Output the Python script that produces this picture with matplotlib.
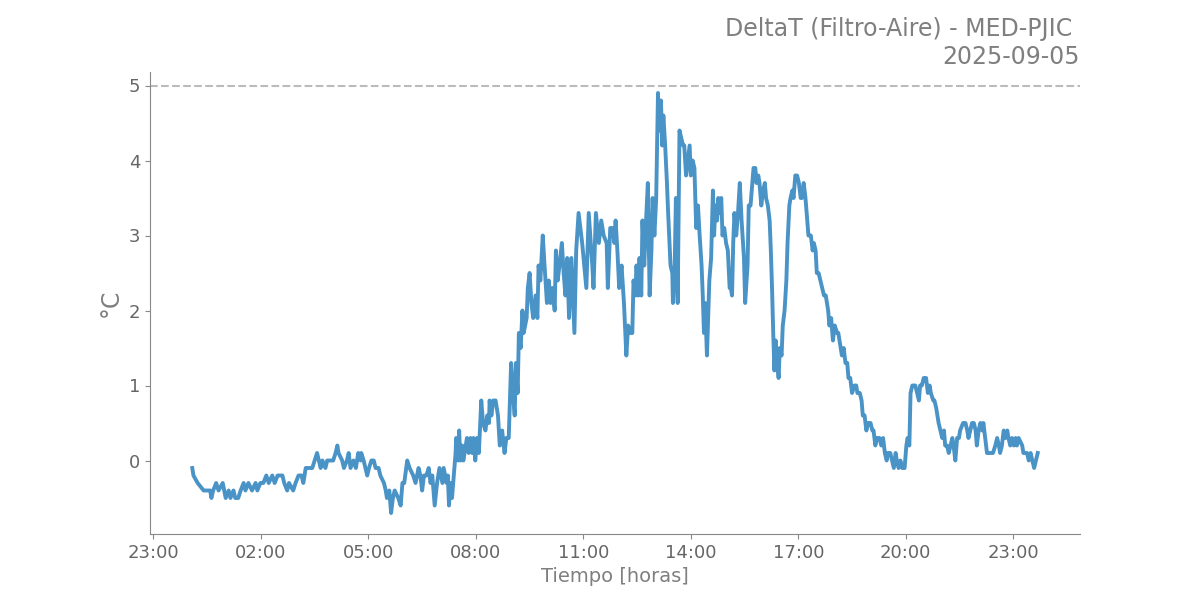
import matplotlib
matplotlib.use("Agg")
import matplotlib.pyplot as plt
import matplotlib.dates as mdates
import pandas as pd

title_text = "DeltaT (Filtro-Aire) - MED-PJIC \n2025-09-05"
day = "2025-09-05"

minutes = [5, 7, 14, 24, 35, 37, 40, 45, 49, 56, 61, 66, 69, 74, 77, 82, 86, 91, 94, 99,
           105, 111, 114, 119, 124, 129, 133, 139, 143, 148, 156, 159, 164, 167, 174, 178, 183, 188, 191, 195,
           206, 210, 214, 217, 220, 223, 228, 231, 241, 245, 248, 250, 256, 259, 264, 267, 270, 275, 279, 283,
           287, 288, 292, 298, 301, 305, 309, 312, 317, 320, 326, 329, 331, 335, 338, 341, 344, 350, 354, 357,
           360, 365, 369, 375, 379, 384, 387, 390, 393, 397, 401, 404, 407, 411, 415, 419, 424, 426, 431, 433,
           435, 437, 440, 442, 446, 447, 450, 452, 454, 457, 459, 463, 465, 468, 471, 474, 476, 479, 482, 485,
           489, 492, 496, 499, 502, 503, 506, 509, 513, 517, 520, 524, 528, 531, 535, 539, 542, 545, 547, 550,
           552, 555, 558, 560, 565, 567, 570, 573, 576, 580, 583, 585, 588, 592, 595, 599, 602, 605, 608, 612,
           614, 617, 620, 624, 627, 630, 633, 636, 640, 642, 645, 648, 652, 658, 665, 669, 675, 677, 681, 686,
           690, 694, 699, 701, 705, 709, 712, 714, 717, 720, 724, 728, 732, 735, 739, 742, 744, 747, 749, 752,
           754, 757, 759, 762, 765, 768, 771, 774, 776, 779, 782, 785, 786, 788, 790, 792, 794, 797, 800, 802,
           806, 809, 810, 813, 815, 818, 821, 824, 827, 829, 832, 835, 838, 840, 843, 846, 849, 852, 854, 858,
           860, 862, 864, 867, 869, 871, 874, 877, 879, 881, 884, 886, 888, 891, 893, 896, 899, 902, 905, 907,
           909, 911, 913, 916, 919, 922, 925, 929, 931, 935, 937, 940, 943, 945, 948, 950, 953, 955, 958, 961,
           964, 966, 969, 972, 974, 976, 978, 980, 982, 984, 987, 989, 992, 994, 997, 1000, 1002, 1005, 1007, 1010,
           1012, 1015, 1018, 1021, 1024, 1026, 1029, 1032, 1035, 1037, 1041, 1044, 1046, 1049, 1051, 1054, 1057, 1060, 1063, 1066,
           1070, 1072, 1075, 1078, 1081, 1085, 1087, 1091, 1093, 1096, 1099, 1102, 1104, 1107, 1110, 1114, 1117, 1119, 1123, 1126,
           1128, 1131, 1134, 1137, 1141, 1144, 1146, 1149, 1152, 1156, 1159, 1162, 1165, 1168, 1170, 1174, 1177, 1180, 1183, 1185,
           1188, 1191, 1194, 1198, 1201, 1203, 1206, 1208, 1211, 1213, 1216, 1219, 1222, 1224, 1227, 1230, 1234, 1237, 1240, 1242,
           1246, 1248, 1251, 1255, 1258, 1261, 1264, 1266, 1269, 1272, 1275, 1278, 1280, 1283, 1286, 1289, 1291, 1296, 1300, 1303,
           1305, 1308, 1311, 1314, 1317, 1319, 1322, 1325, 1328, 1330, 1333, 1336, 1346, 1350, 1353, 1356, 1358, 1361, 1364, 1367,
           1370, 1372, 1375, 1378, 1381, 1384, 1386, 1389, 1395, 1397, 1403, 1406, 1409, 1412, 1415, 1418, 1421]

delta_t = [-0.1, -0.2, -0.3, -0.4, -0.4, -0.5, -0.4, -0.3, -0.4, -0.3, -0.5, -0.4, -0.5, -0.4, -0.5, -0.5, -0.4, -0.3, -0.4, -0.3,
           -0.4, -0.3, -0.4, -0.3, -0.3, -0.2, -0.3, -0.2, -0.3, -0.2, -0.2, -0.3, -0.4, -0.3, -0.4, -0.3, -0.2, -0.2, -0.3, -0.1,
           -0.1, 0.0, 0.1, 0.0, -0.1, 0.0, -0.1, 0.0, 0.0, 0.1, 0.2, 0.1, 0.0, -0.1, 0.0, 0.1, -0.1, 0.0, -0.1, 0.1,
           0.0, 0.1, 0.0, -0.2, -0.1, 0.0, 0.0, -0.1, -0.1, -0.2, -0.3, -0.4, -0.5, -0.4, -0.7, -0.5, -0.4, -0.5, -0.6, -0.3,
           -0.3, 0.0, -0.1, -0.2, -0.3, -0.1, -0.2, -0.4, -0.2, -0.2, -0.1, -0.3, -0.2, -0.6, -0.3, -0.1, -0.3, -0.1, -0.3, -0.2,
           -0.6, -0.3, -0.5, -0.3, 0.1, 0.3, 0.0, 0.4, 0.0, 0.2, 0.0, 0.2, 0.3, 0.1, 0.3, 0.1, 0.3, 0.0, 0.3, 0.1,
           0.8, 0.5, 0.4, 0.6, 0.5, 0.8, 0.6, 0.8, 0.8, 0.6, 0.2, 0.4, 0.1, 0.3, 0.3, 1.3, 0.9, 0.6, 1.3, 0.9,
           1.7, 1.5, 2.0, 1.7, 1.9, 2.3, 2.5, 2.1, 1.9, 2.2, 1.9, 2.6, 2.4, 3.0, 2.6, 2.1, 2.4, 2.1, 2.3, 2.0,
           2.8, 2.4, 2.6, 2.9, 2.5, 2.2, 2.7, 1.9, 2.7, 2.3, 1.7, 2.8, 3.3, 2.9, 2.3, 3.3, 2.6, 2.3, 3.3, 2.9,
           3.2, 3.0, 2.9, 2.3, 3.1, 3.1, 2.9, 3.2, 2.8, 2.3, 2.6, 2.1, 1.4, 1.8, 1.7, 1.7, 2.4, 2.2, 2.6, 2.2,
           2.7, 2.2, 3.2, 2.6, 3.2, 3.7, 2.2, 2.8, 3.5, 3.0, 3.5, 4.9, 4.6, 4.4, 4.8, 4.2, 4.6, 4.2, 3.7, 3.3,
           2.6, 2.5, 2.1, 2.6, 3.5, 2.1, 4.4, 4.3, 4.2, 4.2, 3.8, 4.0, 4.2, 3.8, 4.0, 3.9, 3.1, 3.4, 3.1, 2.6,
           2.2, 1.7, 2.1, 1.4, 1.9, 2.4, 2.7, 3.6, 3.0, 3.4, 3.2, 3.5, 3.3, 3.5, 3.0, 3.1, 2.9, 2.8, 2.3, 2.3,
           2.2, 2.9, 3.3, 3.0, 3.3, 3.7, 3.2, 2.7, 2.1, 2.6, 3.4, 3.4, 3.7, 3.9, 3.9, 3.7, 3.8, 3.7, 3.4, 3.6,
           3.7, 3.5, 3.4, 3.2, 2.8, 2.3, 1.7, 1.2, 1.6, 1.4, 1.1, 1.5, 1.4, 1.8, 2.0, 2.4, 2.9, 3.4, 3.5, 3.6,
           3.5, 3.8, 3.8, 3.7, 3.5, 3.5, 3.7, 3.5, 3.2, 3.0, 3.0, 2.8, 2.9, 2.8, 2.5, 2.5, 2.4, 2.3, 2.2, 2.2,
           2.0, 1.8, 1.9, 1.6, 1.8, 1.7, 1.7, 1.5, 1.4, 1.5, 1.3, 1.3, 1.1, 1.1, 0.9, 1.0, 1.0, 0.9, 0.9, 0.8,
           0.6, 0.6, 0.4, 0.5, 0.5, 0.4, 0.4, 0.2, 0.3, 0.3, 0.2, 0.3, 0.1, 0.0, 0.1, 0.1, 0.0, -0.1, 0.1, 0.0,
           -0.1, 0.0, -0.1, -0.1, 0.2, 0.3, 0.2, 0.9, 1.0, 1.0, 1.0, 0.9, 0.8, 1.0, 1.0, 1.1, 1.1, 0.9, 1.0, 0.9,
           0.8, 0.8, 0.7, 0.5, 0.4, 0.3, 0.4, 0.2, 0.2, 0.1, 0.2, 0.3, 0.2, 0.0, 0.3, 0.3, 0.4, 0.5, 0.5, 0.4,
           0.3, 0.4, 0.5, 0.5, 0.4, 0.2, 0.4, 0.5, 0.4, 0.5, 0.3, 0.1, 0.1, 0.2, 0.3, 0.2, 0.1, 0.2, 0.4, 0.3,
           0.4, 0.3, 0.2, 0.3, 0.2, 0.3, 0.2, 0.3, 0.2, 0.1, 0.1, 0.0, 0.1, 0.0, -0.1, 0.0, 0.1]

times = pd.Timestamp(day) + pd.to_timedelta(minutes, unit="min")

text_gray = "#7f7f7f"
fig = plt.figure(figsize=(12, 6), dpi=100)
ax = fig.add_subplot(111)
ax.plot(times, delta_t, color="#4a93c6", linewidth=2.8, solid_joinstyle="round")
ax.axhline(5, color="#bbbbbb", linestyle="--", linewidth=1.5)

ax.xaxis.set_major_locator(mdates.HourLocator(byhour=range(2, 24, 3)))
ax.xaxis.set_major_formatter(mdates.DateFormatter("%H:%M"))
ax.set_yticks([0, 1, 2, 3, 4, 5])

for s in ["top", "right"]:
    ax.spines[s].set_visible(False)
for s in ["left", "bottom"]:
    ax.spines[s].set_color("#888888")
ax.tick_params(colors="#666666", labelsize=13, color="#888888")

ax.set_xlabel("Tiempo [horas]", fontsize=14, color=text_gray)
ax.set_ylabel("°C", fontsize=17, color=text_gray)
ax.set_title(title_text, loc="right", fontsize=17, color=text_gray)

fig.savefig("out.png", dpi=100)
